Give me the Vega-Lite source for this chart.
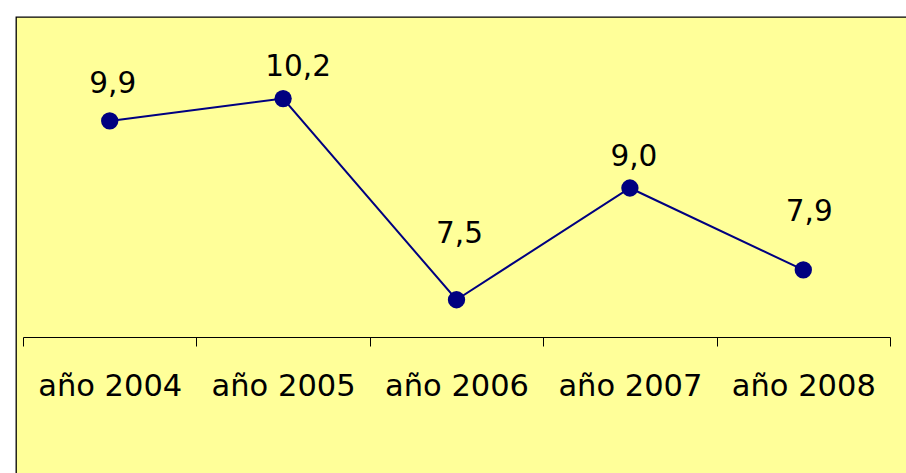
{
  "$schema": "https://vega.github.io/schema/vega-lite/v6.json",
  "autosize": {"type": "none"},
  "width": 892,
  "height": 458,
  "padding": {"left": 16, "top": 17, "right": 0, "bottom": 0},
  "background": "#FFFFFF",
  "config": {
    "view": {"fill": "#FFFF99", "stroke": "#000000", "strokeWidth": 1.3},
    "locale": {"number": {"decimal": ",", "thousands": ".", "grouping": [3], "currency": ["", " €"]}},
    "text": {"font": "DejaVu Sans"}
  },
  "data": {"values": [
    {"year": "año 2004", "value": 9.9},
    {"year": "año 2005", "value": 10.2},
    {"year": "año 2006", "value": 7.5},
    {"year": "año 2007", "value": 9.0},
    {"year": "año 2008", "value": 7.9}
  ]},
  "encoding": {
    "x": {
      "field": "year", "type": "nominal", "sort": null,
      "scale": {"type": "band", "range": [7, 874], "paddingInner": 0, "paddingOuter": 0},
      "axis": {
        "title": null, "orient": "bottom", "offset": -138,
        "domainColor": "#000000", "domainWidth": 1,
        "tickColor": "#000000", "tickSize": 9, "tickWidth": 1, "tickBand": "extent",
        "labelFont": "DejaVu Sans", "labelFontSize": 30.5, "labelColor": "#000000",
        "labelPadding": 25, "labelAngle": 0, "grid": false
      }
    },
    "y": {
      "field": "value", "type": "quantitative",
      "scale": {"domain": [7, 11], "range": [320, 22], "zero": false, "nice": false},
      "axis": null
    }
  },
  "layer": [
    {"mark": {"type": "line", "color": "#000080", "strokeWidth": 2}},
    {"mark": {"type": "point", "filled": true, "color": "#000080", "opacity": 1, "size": 300}},
    {"transform": [{"filter": "datum.year === 'año 2004'"}],
     "mark": {"type": "text", "fontSize": 29.5, "color": "#000000", "baseline": "alphabetic", "align": "center", "dx": 3, "dy": -28},
     "encoding": {"text": {"field": "value", "type": "quantitative", "format": ".1f"}}},
    {"transform": [{"filter": "datum.year === 'año 2005'"}],
     "mark": {"type": "text", "fontSize": 29.5, "color": "#000000", "baseline": "alphabetic", "align": "center", "dx": 15, "dy": -23},
     "encoding": {"text": {"field": "value", "type": "quantitative", "format": ".1f"}}},
    {"transform": [{"filter": "datum.year === 'año 2006'"}],
     "mark": {"type": "text", "fontSize": 29.5, "color": "#000000", "baseline": "alphabetic", "align": "center", "dx": 3, "dy": -57},
     "encoding": {"text": {"field": "value", "type": "quantitative", "format": ".1f"}}},
    {"transform": [{"filter": "datum.year === 'año 2007'"}],
     "mark": {"type": "text", "fontSize": 29.5, "color": "#000000", "baseline": "alphabetic", "align": "center", "dx": 4, "dy": -22},
     "encoding": {"text": {"field": "value", "type": "quantitative", "format": ".1f"}}},
    {"transform": [{"filter": "datum.year === 'año 2008'"}],
     "mark": {"type": "text", "fontSize": 29.5, "color": "#000000", "baseline": "alphabetic", "align": "center", "dx": 6, "dy": -49},
     "encoding": {"text": {"field": "value", "type": "quantitative", "format": ".1f"}}}
  ]
}
